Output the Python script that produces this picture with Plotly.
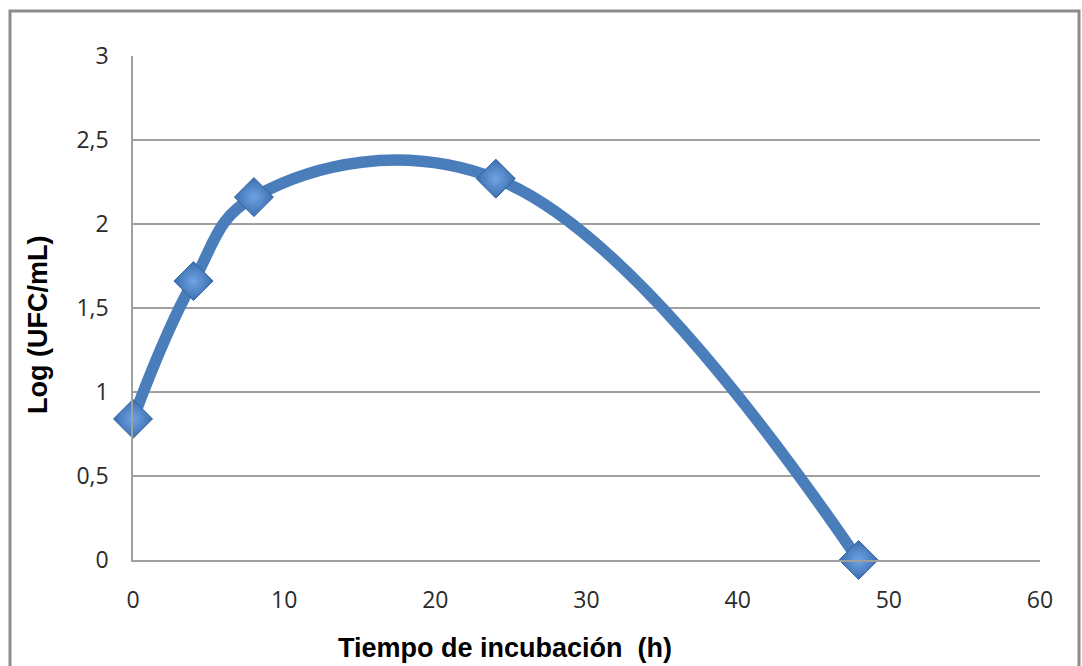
import plotly.graph_objects as go

# Incubation time (h) and bacterial count (log UFC/mL)
tiempo_h = [0, 4, 8, 24, 48]
log_ufc = [0.84, 1.66, 2.16, 2.27, 0.0]

x_ticks = [0, 10, 20, 30, 40, 50, 60]
y_ticks = [0, 0.5, 1, 1.5, 2, 2.5, 3]
y_tick_labels = ["0", "0,5", "1", "1,5", "2", "2,5", "3"]

W, H = 1082, 666
L, R, T, B = 133, 42, 56, 106

fig = go.Figure()

fig.add_trace(go.Scatter(
    x=tiempo_h, y=log_ufc,
    mode="lines+markers",
    line=dict(color="#4A7EBB", width=11.5, shape="spline", smoothing=1.15),
    marker=dict(
        symbol="diamond", size=30, color="#3A6EAE",
        gradient=dict(type="radial", color="#6FA3E4"),
        line=dict(color="#34649E", width=1),
    ),
    cliponaxis=False,
    showlegend=False,
))

# pixel -> paper coordinate helpers for frame and titles
px = lambda v: (v - L) / (W - L - R)
py = lambda v: (H - B - v) / (H - T - B)

# outer chart frame
fig.add_shape(type="rect", xref="paper", yref="paper",
              x0=px(10), x1=px(1079), y0=py(700), y1=py(11),
              line=dict(color="#8C8C8C", width=3), fillcolor="rgba(0,0,0,0)",
              layer="below")

tick_font = dict(family="Open Sans, Liberation Sans, sans-serif", size=23, color="#2b2b2b")
title_font = dict(family="Liberation Sans, Arial, sans-serif", size=27, color="#000000")

fig.add_annotation(text="<b>Tiempo de incubación  (h)</b>", xref="paper", yref="paper",
                   x=px(505), y=py(648), showarrow=False, font=title_font,
                   xanchor="center", yanchor="middle")
fig.add_annotation(text="<b>Log (UFC/mL)</b>", xref="paper", yref="paper",
                   x=px(38), y=py(325), showarrow=False, font=title_font,
                   textangle=-90, xanchor="center", yanchor="middle")

fig.update_layout(
    width=W, height=H,
    margin=dict(l=L, r=R, t=T, b=B),
    paper_bgcolor="white", plot_bgcolor="white",
    xaxis=dict(
        range=[0, 60], tickvals=x_ticks, showgrid=False, zeroline=False,
        showline=True, linecolor="#A0A0A0", linewidth=1.5,
        ticks="", ticklabelstandoff=19, tickfont=tick_font,
    ),
    yaxis=dict(
        range=[0, 3], tickvals=y_ticks, ticktext=y_tick_labels,
        showgrid=True, gridcolor="#A0A0A0", gridwidth=1.5, zeroline=False,
        showline=True, linecolor="#A0A0A0", linewidth=1.5,
        ticks="", ticklabelstandoff=18, tickfont=tick_font,
    ),
)

fig.write_html("out.html")
